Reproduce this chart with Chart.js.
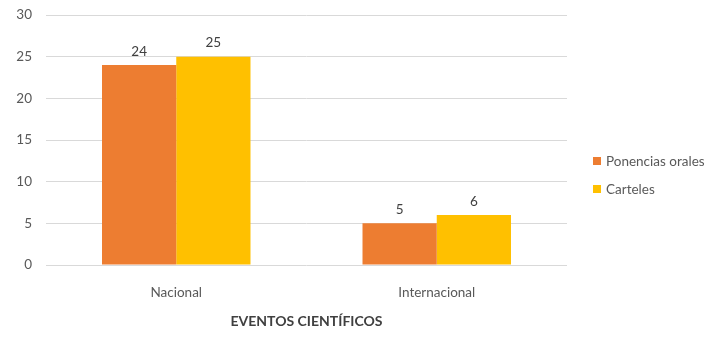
<!DOCTYPE html>
<html>
<head>
<meta charset="utf-8">
<script src="https://cdn.jsdelivr.net/npm/chart.js@4/dist/chart.umd.min.js"></script>
<style>
  html, body { margin: 0; padding: 0; background: #fff; }
  #wrap { position: relative; width: 724px; height: 355px; }
  #legend { position: absolute; left: 593px; top: 147px; font: 13.5px Lato, 'Liberation Sans', sans-serif; color: #595959; }
  #legend div { height: 28px; display: flex; align-items: center; }
  #legend span.sw { display: inline-block; width: 8px; height: 8px; margin-right: 5px; }
</style>
</head>
<body>
<div id="wrap">
  <canvas id="chart" width="724" height="355"></canvas>
  <div id="legend"></div>
</div>
<script>
/* ── Data ───────────────────────────────────────────── */
const categories = ['Nacional', 'Internacional'];
const seriesNames = ['Ponencias orales', 'Carteles'];
const ponencias = [24, 5];
const carteles  = [25, 6];
const yTicks = [0, 5, 10, 15, 20, 25, 30];

const colors = ['#ED7D31', '#FFC000'];
const FONT = "Lato, 'Liberation Sans', sans-serif";
const TXT = '#595959';

/* ── Value labels above bars ───────────────────────── */
const valueLabels = {
  id: 'valueLabels',
  afterDatasetsDraw(chart) {
    const ctx = chart.ctx;
    ctx.save();
    ctx.font = '13.5px ' + FONT;
    ctx.fillStyle = '#404040';
    ctx.textAlign = 'center';
    ctx.textBaseline = 'bottom';
    chart.data.datasets.forEach((ds, i) => {
      chart.getDatasetMeta(i).data.forEach((bar, j) => {
        ctx.fillText(String(ds.data[j]), bar.x, bar.y - 7);
      });
    });
    ctx.restore();
  }
};

const chart = new Chart(document.getElementById('chart'), {
  type: 'bar',
  data: {
    labels: categories,
    datasets: [
      { label: seriesNames[0], data: ponencias, backgroundColor: colors[0] },
      { label: seriesNames[1], data: carteles,  backgroundColor: colors[1] }
    ]
  },
  options: {
    responsive: false,
    animation: false,
    layout: { padding: { top: 15, right: 157, bottom: 0, left: 0 } },
    datasets: { bar: { categoryPercentage: 0.57, barPercentage: 1 } },
    plugins: { legend: { display: false }, tooltip: { enabled: false } },
    scales: {
      x: {
        afterFit: s => { s.height = 90; },
        grid: { display: false },
        border: { display: false },
        ticks: { color: TXT, font: { family: FONT, size: 13.5 }, padding: 12 },
        title: { display: true, text: 'EVENTOS CIENTÍFICOS', color: '#404040',
                 font: { family: FONT, size: 14, weight: 'bold' }, padding: { top: 4, bottom: 25 } }
      },
      y: {
        min: 0, max: 30,
        afterFit: s => { s.width = 46; s.paddingTop = 0; s.paddingBottom = 0; },
        afterBuildTicks: s => { s.ticks = yTicks.map(v => ({ value: v })); },
        grid: { color: '#d9d9d9', drawTicks: false },
        border: { display: false },
        ticks: { color: TXT, font: { family: FONT, size: 13.5 }, padding: 14 }
      }
    }
  },
  plugins: [valueLabels]
});

/* ── HTML legend ───────────────────────────────────── */
document.getElementById('legend').innerHTML = seriesNames.map((n, i) =>
  `<div><span class="sw" style="background:${colors[i]}"></span>${n}</div>`).join('');
</script>
</body>
</html>
